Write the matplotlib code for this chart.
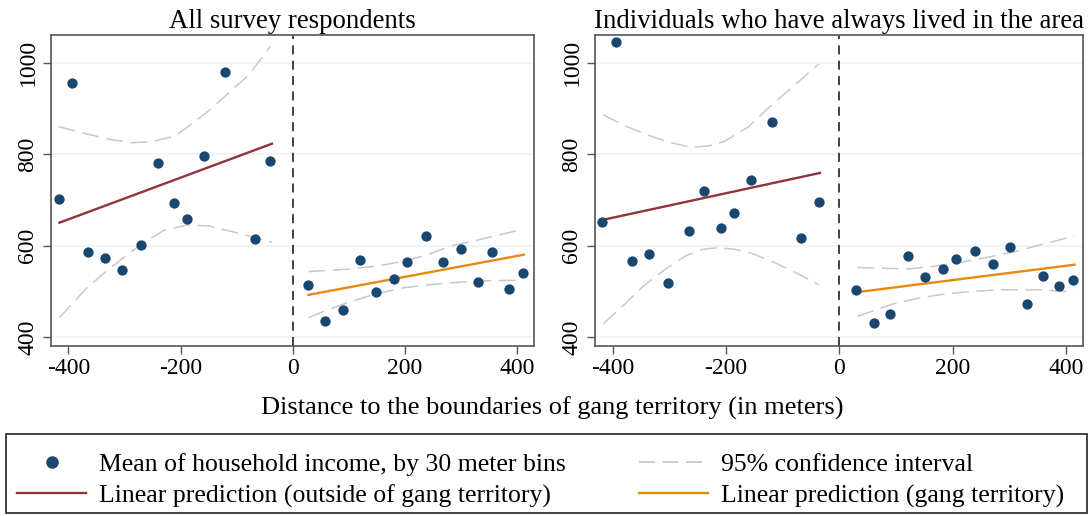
import matplotlib
matplotlib.use("Agg")
import matplotlib.pyplot as plt
from matplotlib.lines import Line2D
from matplotlib.patches import Rectangle

plt.rcParams['font.family'] = ['Liberation Serif', 'DejaVu Serif']
plt.rcParams['axes.unicode_minus'] = False

# ---- data (distance in m, income) ----
# panel 1: all survey respondents
all_x = [-417, -394, -365, -335, -304, -270, -241, -212, -189, -158, -120, -68, -40,
         28, 58, 89, 120, 148, 180, 203, 238, 268, 299, 330, 355, 385, 411]
all_y = [701, 956, 586, 572, 546, 602, 781, 693, 658, 797, 980, 615, 786,
         513, 435, 459, 569, 499, 527, 564, 620, 564, 593, 521, 586, 505, 540]
all_fit_out_x = [-416, -37]
all_fit_out_y = [650, 823]
all_fit_in_x = [28, 412]
all_fit_in_y = [492, 580]
all_ci_out_hi_x = [-417, -363, -320, -285, -250, -210, -177, -150, -121, -78, -40]
all_ci_out_hi_y = [860, 843, 831, 825, 828, 840, 869, 895, 927, 974, 1036]
all_ci_out_lo_x = [-416, -369, -335, -300, -270, -230, -189, -150, -100, -37]
all_ci_out_lo_y = [442, 505, 541, 575, 603, 633, 645, 643, 628, 607]
all_ci_in_hi_x = [28, 96, 150, 200, 240, 282, 340, 411]
all_ci_in_hi_y = [543, 548, 555, 566, 580, 599, 615, 636]
all_ci_in_lo_x = [28, 60, 100, 150, 200, 250, 300, 350, 411]
all_ci_in_lo_y = [442, 458, 476, 495, 508, 515, 520, 523, 524]

# panel 2: individuals who have always lived in the area
liv_x = [-418, -394, -366, -335, -303, -266, -238, -209, -186, -155, -119, -67, -36,
         30, 62, 90, 122, 152, 183, 206, 240, 271, 301, 332, 360, 388, 412]
liv_y = [652, 1045, 567, 581, 519, 632, 719, 638, 671, 743, 870, 616, 696,
         503, 430, 449, 576, 530, 549, 570, 587, 560, 597, 473, 533, 511, 525]
liv_fit_out_x = [-418, -34]
liv_fit_out_y = [656, 759]
liv_fit_in_x = [32, 415]
liv_fit_in_y = [498, 558]
liv_ci_out_hi_x = [-416, -378, -338, -300, -261, -230, -203, -160, -122, -80, -36]
liv_ci_out_hi_y = [886, 862, 842, 826, 815, 818, 828, 860, 905, 950, 998]
liv_ci_out_lo_x = [-416, -380, -345, -305, -270, -240, -215, -185, -153, -120, -91, -60, -36]
liv_ci_out_lo_y = [429, 470, 512, 550, 578, 592, 595, 592, 582, 566, 549, 530, 514]
liv_ci_in_hi_x = [32, 80, 125, 170, 217, 265, 310, 360, 415]
liv_ci_in_hi_y = [552, 550, 549, 555, 564, 575, 587, 603, 621]
liv_ci_in_lo_x = [32, 62, 94, 140, 187, 230, 279, 320, 354, 415]
liv_ci_in_lo_y = [445, 458, 472, 485, 494, 499, 503, 503, 503, 498]

titles = ["All survey respondents", "Individuals who have always lived in the area"]
xlabel = "Distance to the boundaries of gang territory (in meters)"
leg_labels = ["Mean of household income, by 30 meter bins",
              "Linear prediction (outside of gang territory)",
              "95% confidence interval",
              "Linear prediction (gang territory)"]

navy = "#1a476f"
maroon = "#90353b"
orange = "#e8890f"
cigray = "#c8c8c8"

fig = plt.figure(figsize=(10.91, 5.16), dpi=100)
ax1 = fig.add_axes([51 / 1091, 1 - 346 / 516, 483 / 1091, 311 / 516])
ax2 = fig.add_axes([595 / 1091, 1 - 346 / 516, 488 / 1091, 311 / 516])

panels = [
    (ax1, all_x, all_y, all_fit_out_x, all_fit_out_y, all_fit_in_x, all_fit_in_y,
     [(all_ci_out_hi_x, all_ci_out_hi_y), (all_ci_out_lo_x, all_ci_out_lo_y),
      (all_ci_in_hi_x, all_ci_in_hi_y), (all_ci_in_lo_x, all_ci_in_lo_y)]),
    (ax2, liv_x, liv_y, liv_fit_out_x, liv_fit_out_y, liv_fit_in_x, liv_fit_in_y,
     [(liv_ci_out_hi_x, liv_ci_out_hi_y), (liv_ci_out_lo_x, liv_ci_out_lo_y),
      (liv_ci_in_hi_x, liv_ci_in_hi_y), (liv_ci_in_lo_x, liv_ci_in_lo_y)]),
]

for i, (ax, px, py, fox, foy, fix, fiy, cis) in enumerate(panels):
    for yv in [400, 600, 800, 1000]:
        ax.axhline(yv, color="#eef3f4", lw=1.3, zorder=0)
    for cx, cy in cis:
        ax.plot(cx, cy, color=cigray, lw=1.1, dashes=(11, 5), zorder=1)
    ax.plot(fox, foy, color=maroon, lw=1.7, zorder=2)
    ax.plot(fix, fiy, color=orange, lw=1.7, zorder=2)
    ax.scatter(px, py, s=55, color=navy, zorder=3, linewidths=0)
    ax.axvline(0, color="#333333", lw=1.3, dashes=(5, 3.5), zorder=1)
    ax.set_xlim(-431, 430)
    ax.set_ylim(380, 1061)
    ax.set_xticks([-400, -200, 0, 200, 400])
    ax.set_yticks([400, 600, 800, 1000])
    ax.tick_params(axis="both", labelsize=17, length=6, width=1, color="#555555", pad=3)
    for lab in ax.get_yticklabels():
        lab.set_rotation(90)
        lab.set_va("center")
    for sp in ax.spines.values():
        sp.set_color("#555555")
        sp.set_linewidth(1.2)
    ax.set_title(titles[i], fontsize=19.3, pad=5)

fig.text(552 / 1091, 1 - 408 / 516, xlabel, ha="center", va="center", fontsize=19)

# legend frame drawn separately so it spans the full width
fig.patches.append(Rectangle((6 / 1091, 3 / 516), 1081 / 1091, 79 / 516,
                             transform=fig.transFigure, fill=False,
                             edgecolor="#222222", lw=1.2))

handles = [
    Line2D([], [], marker="o", ls="none", color=navy, markersize=8),
    Line2D([], [], color=maroon, lw=1.7),
    Line2D([], [], color=cigray, lw=1.3, dashes=(9, 4)),
    Line2D([], [], color=orange, lw=1.7),
]
leg = fig.legend(handles, leg_labels, ncol=2, loc="center left", mode="expand",
                 bbox_to_anchor=(8 / 1091, -4 / 516, 1065 / 1091, 79 / 516),
                 borderaxespad=0, fontsize=18.5, handlelength=2.7, handletextpad=0.5,
                 frameon=False, labelspacing=0.3, borderpad=0.35)

fig.savefig("out.png", dpi=100)
